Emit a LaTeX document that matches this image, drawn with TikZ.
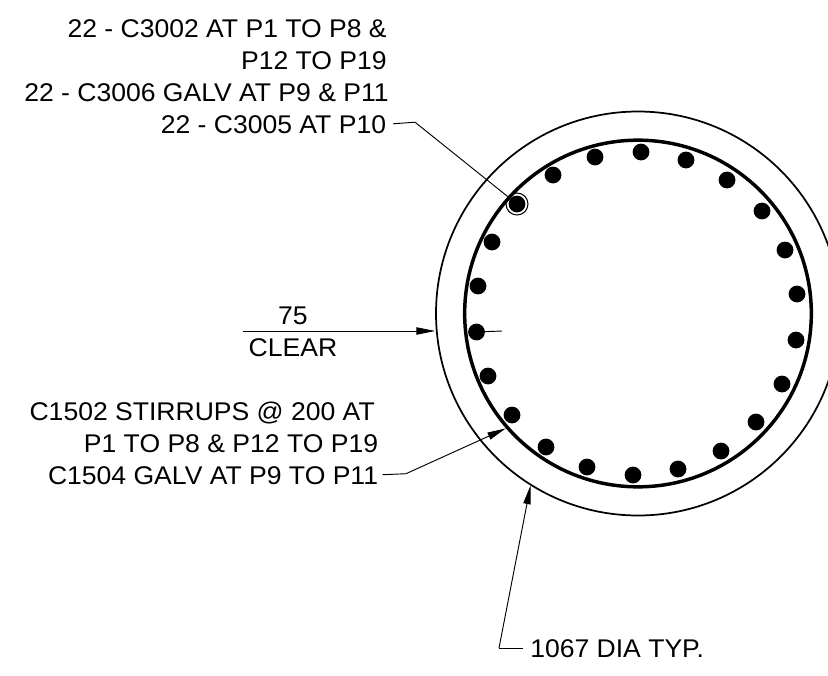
\documentclass[tikz,border=0pt]{standalone}
\usepackage{fontspec}
\setmainfont[FakeStretch=1.037]{Liberation Sans}
\usetikzlibrary{arrows.meta}
\usetikzlibrary{positioning}

\begin{document}
\begin{tikzpicture}[x=0.75pt,y=-0.75pt,font=\fontsize{19.2}{23}\selectfont,
                line/.style={anchor=east, inner sep=0pt, text height=18.85pt, text depth=4.65pt},
                bar/.style={circle, fill=black, inner sep=0pt, minimum size=12.6pt},
                leader/.style={draw,line width=0.7pt},
                arrow/.style={draw,line width=0.7pt,-{Triangle[length=14pt,width=5.5pt]}},
            ]
            \clip (0,0) rectangle (828,675);
            % column outline and stirrup
            \node[circle, draw, line width=1.3pt, inner sep=0pt, minimum size=303pt] (column) at (638,313.5) {};
            \node[circle, draw, line width=2.6pt, inner sep=0pt, minimum size=260pt] (stirrup) at (638,313.5) {};
            % bars, clockwise from the top
            \foreach \x/\y [count=\i] in {641/152,686/160,727/180,762/211,785/250,797/294,796/340,782/384,
                                          756/422,721/451,678/469,633/475,587/467,546/447,512/415,488/376,
                                          476.5/332,478/286,492/242,517/204,553/175,595/157}
                \node[bar] (bar\i) at (\x,\y) {};
            \node[circle, draw, line width=0.8pt, inner sep=0pt, minimum size=16.5pt] (ring) at (bar20) {};
            % bar callout
            \node[line] (rebar1) at (387,28.2) {22 - C3002 AT P1 TO P8 \&};
            \node[line, below=0pt of rebar1.south east, anchor=north east] (rebar2) {P12 TO P19};
            \node[line, below=0pt of rebar2.south east, anchor=north east, xshift=1.5pt] (rebar3) {22 - C3006 GALV AT P9 \& P11};
            \node[line, below=0pt of rebar3.south east, anchor=north east, xshift=-2pt] (rebar4) {22 - C3005 AT P10};
            \coordinate (rebarknee) at (415,122.2);
            \path[leader] ([xshift=5pt] rebar4.east) -- (rebarknee) -- (ring);
            % cover dimension
            \node[inner sep=0pt, anchor=base] (cover) at (293,324) {75};
            \node[inner sep=0pt, anchor=base] (clear) at (293,356) {CLEAR};
            \coordinate (covertail) at (243,331);
            \coordinate (covertick) at (502,331);
            \path[arrow] (covertail) -- (column.west |- covertail);
            \path[leader] (bar17) -- (covertick);
            % stirrup callout
            \node[line] (stir1) at (375,411) {C1502 STIRRUPS @ 200 AT};
            \node[line, below=0pt of stir1.south east, anchor=north east, xshift=2.5pt] (stir2) {P1 TO P8 \& P12 TO P19};
            \node[line, below=0pt of stir2.south east, anchor=north east] (stir3) {C1504 GALV AT P9 TO P11};
            \coordinate (stirknee) at (406,473.7);
            \path[leader] ([xshift=3pt] stir3.east) -- (stirknee);
            \path[arrow] (stirknee) -- (stirrup.221);
            % diameter
            \node[line, anchor=west] (dia) at (530,648) {1067 DIA TYP.};
            \coordinate (diaknee) at (499,648);
            \path[leader] ([xshift=-5pt] dia.west) -- (diaknee);
            \path[arrow] (diaknee) -- (column.238.5);
            \end{tikzpicture}
\end{document}
